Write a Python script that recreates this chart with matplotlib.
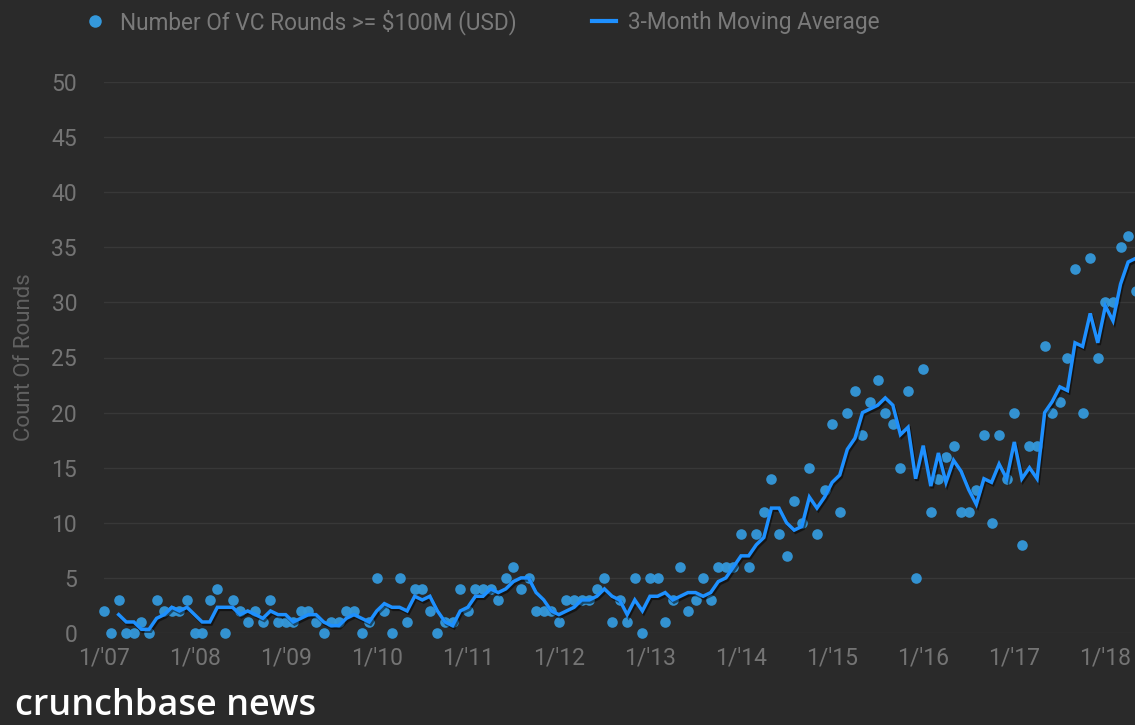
import matplotlib
matplotlib.use("Agg")
import matplotlib.pyplot as plt
import matplotlib.patheffects as pe
from matplotlib.lines import Line2D
import numpy as np
import pandas as pd

# monthly counts of VC rounds >= $100M, Jan 2007 .. May 2018
rounds_2007 = [2, 0, 3, 0, 0, 1, 0, 3, 2, 2, 2, 3]
rounds_2008 = [0, 0, 3, 4, 0, 3, 2, 1, 2, 1, 3, 1]
rounds_2009 = [1, 1, 2, 2, 1, 0, 1, 1, 2, 2, 0, 1]
rounds_2010 = [5, 2, 0, 5, 1, 4, 4, 2, 0, 1, 1, 4]
rounds_2011 = [2, 4, 4, 4, 3, 5, 6, 4, 5, 2, 2, 2]
rounds_2012 = [1, 3, 3, 3, 3, 4, 5, 1, 3, 1, 5, 0]
rounds_2013 = [5, 5, 1, 3, 6, 2, 3, 5, 3, 6, 6, 6]
rounds_2014 = [9, 6, 9, 11, 14, 9, 7, 12, 10, 15, 9, 13]
rounds_2015 = [19, 11, 20, 22, 18, 21, 23, 20, 19, 15, 22, 5]
rounds_2016 = [24, 11, 14, 16, 17, 11, 11, 13, 18, 10, 18, 14]
rounds_2017 = [20, 8, 17, 17, 26, 20, 21, 25, 33, 20, 34, 25]
rounds_2018 = [30, 30, 35, 36, 31]

year_labels = ["1/'07", "1/'08", "1/'09", "1/'10", "1/'11", "1/'12",
               "1/'13", "1/'14", "1/'15", "1/'16", "1/'17", "1/'18"]
y_ticks = [0, 5, 10, 15, 20, 25, 30, 35, 40, 45, 50]

counts = pd.Series(rounds_2007 + rounds_2008 + rounds_2009 + rounds_2010
                   + rounds_2011 + rounds_2012 + rounds_2013 + rounds_2014
                   + rounds_2015 + rounds_2016 + rounds_2017 + rounds_2018)
moving_avg = counts.rolling(3).mean()
months = np.arange(len(counts))

BG = "#2a2a2a"
GRID = "#383838"
TXT = "#747474"
DOT = "#3498db"
LINE = "#1e90ff"

plt.rcParams["font.family"] = ["Roboto", "DejaVu Sans"]

fig = plt.figure(figsize=(11.35, 7.25), dpi=100, facecolor=BG)
W, H = 1135, 725
ax = fig.add_axes([103.5 / W, (H - 633) / H, 1 - 103.5 / W, (633 - 82) / H])
ax.set_facecolor(BG)

ax.scatter(months, counts, s=58, color=DOT, alpha=0.95, linewidths=0,
           zorder=3, clip_on=False)
ax.plot(months, moving_avg, color=LINE, lw=2.5, zorder=4, solid_joinstyle="miter",
        path_effects=[pe.SimpleLineShadow(offset=(1, -1.5), shadow_color="black", alpha=0.5),
                      pe.Normal()])

ax.set_xlim(0, (W - 103.5) / 7.59)
ax.set_ylim(0, 50)
ax.set_yticks(y_ticks)
ax.set_xticks(np.arange(len(year_labels)) * 12)
ax.set_xticklabels(year_labels)
ax.grid(axis="y", color=GRID, lw=1)
ax.set_axisbelow(True)
for s in ax.spines.values():
    s.set_visible(False)
ax.tick_params(length=0, colors=TXT, labelsize=16.5)
ax.tick_params(axis="y", pad=19)
ax.tick_params(axis="x", pad=10)
ax.set_ylabel("Count Of Rounds", color="#626262", fontsize=16)
ax.yaxis.set_label_coords(-68.5 / (W - 103.5), (633 - 357) / (633 - 82))

handles = [
    Line2D([], [], marker="o", ls="none", color=DOT, markersize=9, markeredgewidth=0),
    Line2D([], [], color=LINE, lw=3),
]
fig.legend(handles, ["Number Of VC Rounds >= $100M (USD)", "3-Month Moving Average"],
           loc="center left", bbox_to_anchor=(63 / W, 1 - 22 / H), ncol=2,
           frameon=False, fontsize=16.3, labelcolor="#7a7a7a",
           handlelength=1.05, handletextpad=0.55, columnspacing=3.35)

fig.text(15 / W, 1 / H, "crunchbase news", color="white", fontsize=26,
         family=["Open Sans", "DejaVu Sans"], fontweight="semibold", va="bottom")

fig.savefig("out.png", dpi=100, facecolor=BG)
